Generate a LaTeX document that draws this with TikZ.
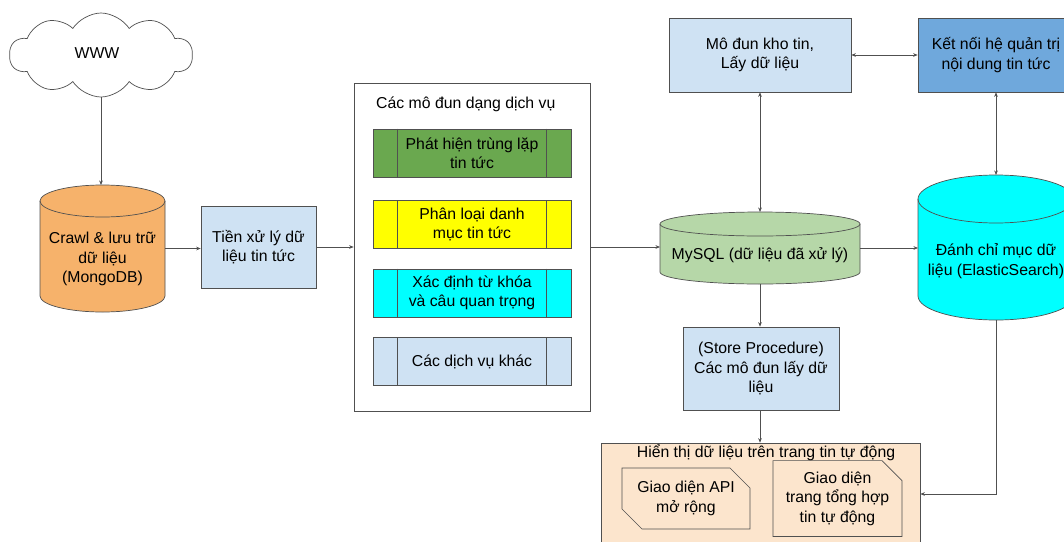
\documentclass[tikz,border=0pt]{standalone}
\usepackage{fontspec}
\setmainfont{Liberation Sans}
\usetikzlibrary{shapes.symbols,shapes.misc,arrows.meta}
\definecolor{linec}{HTML}{505050}
\definecolor{orangec}{HTML}{F6B26B}
\definecolor{lblue}{HTML}{CFE2F3}
\definecolor{dgreen}{HTML}{6AA84F}
\definecolor{yellowc}{HTML}{FFFF00}
\definecolor{cyanc}{HTML}{00FFFF}
\definecolor{lgreen}{HTML}{B6D7A8}
\definecolor{mblue}{HTML}{6FA8DC}
\definecolor{peach}{HTML}{FCE5CD}
\begin{document}
\begin{tikzpicture}[x=1pt,y=-1pt,
  font=\fontsize{15.8}{19.5}\selectfont,
  box/.style={draw=linec, line width=0.7pt, align=center, inner sep=2pt},
  ghost/.style={inner sep=0pt, outer sep=0pt},
  txt/.style={align=center, inner sep=0pt},
  cylst/.style={draw=linec, line width=0.7pt},
  conn/.style={draw=linec, line width=0.6pt, -{Stealth[length=4.5pt,width=3.6pt]}},
  biconn/.style={draw=linec, line width=0.6pt, {Stealth[length=4.5pt,width=3.6pt]}-{Stealth[length=4.5pt,width=3.6pt]}},
  svcbox/.style={box, minimum width=198pt, minimum height=48pt},
  snip/.style={draw=linec, line width=0.7pt, chamfered rectangle, chamfered rectangle xsep=10pt, chamfered rectangle ysep=10pt, align=center, inner sep=1pt}
]
\clip (0,0) rectangle (1064,541);
\fill[white] (0,0) rectangle (1064,541);

% cloud
\node[cloud, cloud puffs=10, cloud puff arc=115, aspect=2.3, draw=linec, line width=0.7pt, fill=white,
  minimum width=183pt, minimum height=84pt, inner sep=0pt] (www) at (101,55) {};
\node[txt] (wwwtxt) at (97,53) {WWW};

% MongoDB cylinder
\draw[cylst, fill=orangec] (40,201) -- (40,296) arc(180:360:62.5pt and 16pt) -- (165,201) arc(0:180:62.5pt and 16pt) -- cycle;
\draw[cylst] (40,201) arc(180:360:62.5pt and 16pt);
\node[ghost, minimum width=125pt, minimum height=127pt] (mongo) at (102.5,248.5) {};
\node[txt] (mongotxt) at (102.5,259) {Crawl \& lưu trữ\\dữ liệu\\(MongoDB)};

% preprocessing
\node[box, fill=lblue, minimum width=115pt, minimum height=82pt] (pre) at (258.5,247) {Tiền xử lý dữ\\liệu tin tức};

% services container
\node[box, fill=white, minimum width=236pt, minimum height=328pt] (svc) at (472,247) {};
\node[txt, anchor=west] (svctitle) at (376,104) {Các mô đun dạng dịch vụ};
\node[svcbox, fill=dgreen] (s1) at (472,153) {Phát hiện trùng lặp\\tin tức};
\node[svcbox, fill=yellowc] (s2) at (472,224.5) {Phân loại danh\\mục tin tức};
\node[svcbox, fill=cyanc] (s3) at (472,293) {Xác định từ khóa\\và câu quan trọng};
\node[svcbox, fill=lblue] (s4) at (472,361.5) {Các dịch vụ khác};
\foreach \s in {s1,s2,s3,s4}{
  \draw[linec, line width=0.7pt] ([xshift=25pt]\s.north west) -- ([xshift=25pt]\s.south west);
  \draw[linec, line width=0.7pt] ([xshift=-25pt]\s.north east) -- ([xshift=-25pt]\s.south east);
}

% MySQL cylinder
\draw[cylst, fill=lgreen] (660,224) -- (660,272) arc(180:360:100pt and 12pt) -- (860,224) arc(0:180:100pt and 12pt) -- cycle;
\draw[cylst] (660,224) arc(180:360:100pt and 12pt);
\node[ghost, minimum width=200pt, minimum height=72pt] (mysql) at (760,248) {};
\node[txt] (mysqltxt) at (760,255) {MySQL (dữ liệu đã xử lý)};

% ElasticSearch cylinder
\draw[cylst, fill=cyanc] (918,199) -- (918,296) arc(180:360:78pt and 24pt) -- (1074,199) arc(0:180:78pt and 24pt) -- cycle;
\draw[cylst] (918,199) arc(180:360:78pt and 24pt);
\node[ghost, minimum width=156pt, minimum height=145pt] (es) at (996,247.5) {};
\node[txt] (estxt) at (996,261) {Đánh chỉ mục dữ\\liệu (ElasticSearch)};

% top boxes
\node[box, fill=lblue, minimum width=182pt, minimum height=74pt] (kho) at (760,55) {Mô đun kho tin,\\Lấy dữ liệu};
\node[box, fill=mblue, minimum width=156pt, minimum height=74pt] (ketnoi) at (996,55) {Kết nối hệ quản trị\\nội dung tin tức};

% store procedure
\node[box, fill=lblue, minimum width=156pt, minimum height=83pt] (store) at (761,368.5) {(Store Procedure)\\Các mô đun lấy dữ\\liệu};

% display
\node[box, fill=peach, minimum width=319pt, minimum height=102pt] (disp) at (760.5,494) {};
\node[txt] (disptitle) at (766,453) {Hiển thị dữ liệu trên trang tin tự động};
\node[snip, chamfered rectangle corners={north east, south west}, minimum width=128pt, minimum height=61pt] (api) at (686,498.5) {Giao diện API\\mở rộng};
\node[snip, chamfered rectangle corners={north east}, minimum width=129pt, minimum height=61pt] (gd) at (837.5,498.5) {Giao diện\\trang tổng hợp\\tin tự động};

% connectors
\draw[conn] (www.south) -- (www.south |- mongo.north);
\draw[conn] (mongo.east) -- (mongo.east -| pre.west);
\draw[conn] (pre.east) -- (pre.east -| svc.west);
\draw[conn] (svc.east) -- (svc.east -| mysql.west);
\draw[conn] (mysql.east) -- (mysql.east -| es.west);
\draw[biconn] (kho.south) -- (mysql.north);
\draw[biconn] (kho.east) -- (ketnoi.west);
\draw[biconn] (ketnoi.south) -- (es.north);
\draw[conn] (mysql.south) -- (mysql.south |- store.north);
\draw[conn] (mysql.south |- store.south) -- (mysql.south |- disp.north);
\draw[conn] (es.south) |- (disp.east);
\end{tikzpicture}
\end{document}
